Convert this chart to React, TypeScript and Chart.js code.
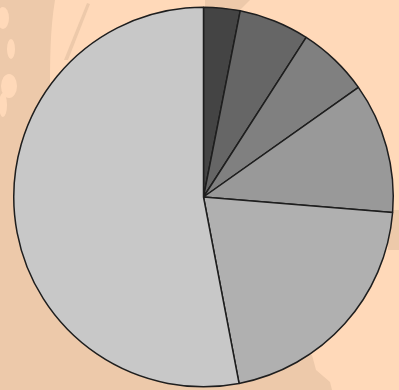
import React, { useEffect, useRef } from "react";
import { Chart, registerables } from "chart.js";

Chart.register(...registerables);

const categories = ["A", "B", "C", "D", "E", "F"];
const values = [3.1, 6.0, 6.1, 11.1, 20.7, 53.0];
const colors = ["#444444", "#666666", "#808080", "#999999", "#b0b0b0", "#c8c8c8"];

const bgPlugin = {
  id: "bgPaint",
  beforeDraw(chart: any) {
    const ctx = chart.ctx;
    const w = chart.width;
    const h = chart.height;
    ctx.save();
    ctx.fillStyle = "#ffd9b9";
    ctx.fillRect(0, 0, w, h);
    ctx.fillStyle = "#edc9aa";
    ctx.beginPath();
    ctx.moveTo(0, 0);
    ctx.lineTo(55, 0);
    ctx.bezierCurveTo(50, 30, 50, 60, 50, 100);
    ctx.lineTo(40, 200);
    ctx.lineTo(120, 330);
    ctx.lineTo(312, 355);
    ctx.lineTo(316, 370);
    ctx.lineTo(330, 382);
    ctx.lineTo(332, h);
    ctx.lineTo(0, h);
    ctx.closePath();
    ctx.fill();
    // thin darker streak
    ctx.beginPath();
    ctx.moveTo(87, 3);
    ctx.lineTo(90, 4);
    ctx.lineTo(68, 60);
    ctx.lineTo(64, 60);
    ctx.closePath();
    ctx.fill();
    // top tan shape
    ctx.beginPath();
    ctx.moveTo(205, 0);
    ctx.lineTo(250, 0);
    ctx.lineTo(240, 10);
    ctx.lineTo(205, 8);
    ctx.closePath();
    ctx.fill();
    // right patch
    ctx.fillRect(388, 210, 11, 40);
    // light patches
    ctx.fillStyle = "#ffd9b9";
    const blobs = [
      [3, 18, 6, 11],
      [11, 49, 4, 10],
      [9, 86, 8, 12],
      [3, 105, 4, 12],
    ];
    for (const b of blobs) {
      ctx.beginPath();
      ctx.ellipse(b[0], b[1], b[2], b[3], 0, 0, Math.PI * 2);
      ctx.fill();
    }
    ctx.restore();
  },
};

export default function App() {
  const ref = useRef<HTMLCanvasElement>(null);
  useEffect(() => {
    const chart = new Chart(ref.current!, {
      type: "pie",
      data: {
        labels: categories,
        datasets: [
          {
            data: values,
            backgroundColor: colors,
            borderColor: "#1e1e1e",
            borderWidth: 1.5,
          },
        ],
      },
      options: {
        animation: false,
        responsive: false,
        maintainAspectRatio: false,
        layout: { padding: { left: 13, right: 5, top: 6, bottom: 2 } },
        plugins: { legend: { display: false }, tooltip: { enabled: false } },
      },
      plugins: [bgPlugin],
    });
    return () => chart.destroy();
  }, []);
  return (
    <div style={{ position: "fixed", left: 0, top: 0, width: 399, height: 390 }}>
      <canvas ref={ref} width={399} height={390} style={{ display: "block" }} />
    </div>
  );
}
